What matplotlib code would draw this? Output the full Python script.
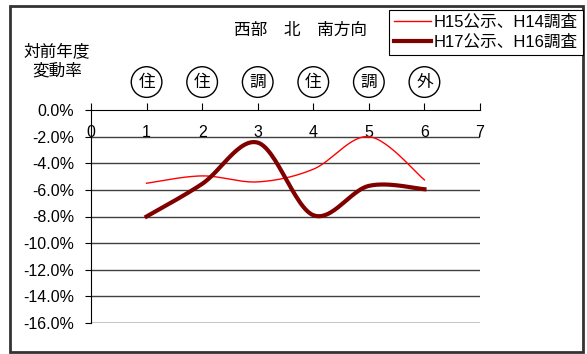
import numpy as np
import matplotlib
matplotlib.use("Agg")
import matplotlib.pyplot as plt
from matplotlib.patches import Rectangle

plt.rcParams['font.family'] = ['Liberation Sans', 'Noto Sans CJK JP']

# data
x_pos = [1, 2, 3, 4, 5, 6]
h15 = [-5.5, -4.95, -5.4, -4.45, -2.0, -5.25]
h17 = [-8.0, -5.55, -2.45, -7.9, -5.7, -5.95]
markers = ['住', '住', '調', '住', '調', '外']
series_names = ['H15公示、H14調査', 'H17公示、H16調査']
y_ticks = [0, -2, -4, -6, -8, -10, -12, -14, -16]
x_ticks = [0, 1, 2, 3, 4, 5, 6, 7]

W, H = 587, 354


def smooth(xs, ys, n=30):
    # Excel-like smoothed line: cubic Bezier with Catmull-Rom control points
    xs = np.asarray(xs, float)
    ys = np.asarray(ys, float)
    px = np.concatenate([[xs[0]], xs, [xs[-1]]])
    py = np.concatenate([[ys[0]], ys, [ys[-1]]])
    out_x, out_y = [], []
    t = np.linspace(0, 1, n)
    for i in range(1, len(px) - 2):
        p0 = np.array([px[i], py[i]])
        p3 = np.array([px[i + 1], py[i + 1]])
        c1 = p0 + (np.array([px[i + 1], py[i + 1]]) - np.array([px[i - 1], py[i - 1]])) / 6
        c2 = p3 - (np.array([px[i + 2], py[i + 2]]) - np.array([px[i], py[i]])) / 6
        b = ((1 - t) ** 3)[:, None] * p0 + (3 * (1 - t) ** 2 * t)[:, None] * c1 \
            + (3 * (1 - t) * t ** 2)[:, None] * c2 + (t ** 3)[:, None] * p3
        out_x.extend(b[:, 0])
        out_y.extend(b[:, 1])
    return out_x, out_y


fig = plt.figure(figsize=(W / 100, H / 100), dpi=100)
ax = fig.add_axes([91 / W, 1 - 323 / H, (480 - 91) / W, (323 - 110) / H])
ax.set_xlim(0, 7)
ax.set_ylim(-16, 0)

# gridlines
for v in y_ticks[1:-1]:
    ax.axhline(v, color='#404040', lw=1, zorder=1)
ax.axhline(-16, color='#c0c0c0', lw=2, zorder=1)

# series
sx, sy = smooth(x_pos, h15)
ax.plot(sx, sy, color='#ff0000', lw=1, label=series_names[0], zorder=3)
sx, sy = smooth(x_pos, h17)
ax.plot(sx, sy, color='#800000', lw=3, label=series_names[1], zorder=3)

# axes styling
for s in ['top', 'right']:
    ax.spines[s].set_visible(False)
ax.spines['bottom'].set_position(('data', 0))
ax.spines['bottom'].set_color('black')
ax.spines['left'].set_color('black')
ax.set_xticks(x_ticks)
ax.set_xticklabels([str(v) for v in x_ticks], fontsize=11.5)
ax.tick_params(axis='x', direction='in', length=5, pad=11)
ax.set_yticks(y_ticks)
ax.set_yticklabels(['%.1f%%' % v for v in y_ticks], fontsize=11.5)
ax.tick_params(axis='y', direction='out', length=4, pad=8)

# circled use labels above the axis
for xv, ch in zip(x_pos, markers):
    ax.text(xv, 2.1, ch, ha='center', va='center', fontsize=12, clip_on=False,
            bbox=dict(boxstyle='circle,pad=0.42', fc='white', ec='black', lw=1))

fig.text(300 / W, 1 - 30 / H, '西部　北　南方向', ha='center', va='center', fontsize=12)
fig.text(57 / W, 1 - 61 / H, '対前年度\n変動率', ha='center', va='center', fontsize=12,
         linespacing=1.3)

leg = fig.legend(loc='upper right', bbox_to_anchor=(583 / W, 1 - 10 / H), fontsize=12,
                 frameon=True, fancybox=False, framealpha=1, edgecolor='black',
                 handlelength=2.2, handletextpad=0.2, borderpad=0.3, labelspacing=0.3,
                 borderaxespad=0)
leg.get_frame().set_linewidth(0.8)

# outer chart border
fig.patches.append(Rectangle((10 / W, 1 - 352 / H), (583 - 10) / W, (352 - 6) / H,
                             transform=fig.transFigure, fill=False, ec='#333333', lw=2))

fig.savefig('out.png', dpi=100)
